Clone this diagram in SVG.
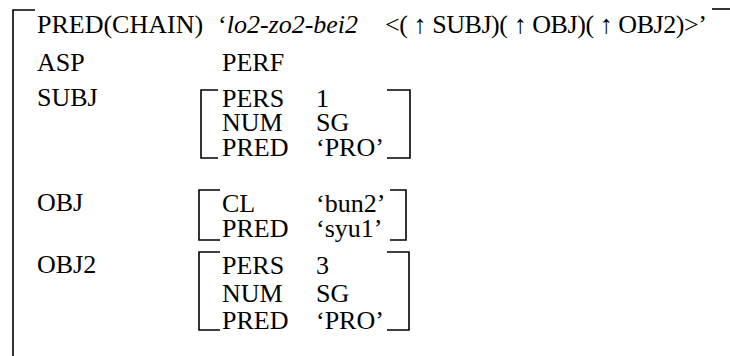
<svg xmlns="http://www.w3.org/2000/svg" width="730" height="356" viewBox="0 0 730 356">
  <style>
    text { font-family: "Liberation Serif", "Times New Roman", serif; font-size: 26px; fill: #000; }
    .it { font-style: italic; }
    .br { fill: none; stroke: #000; stroke-width: 1.6; }
  </style>
  <rect width="730" height="356" fill="#fff"/>

  <!-- outer f-structure bracket -->
  <g id="outer">
    <path class="br" d="M35,10 H13 V356"/>
    <path class="br" d="M712,9 H730"/>
    <text x="37" y="33">PRED(CHAIN)</text>
    <text x="218" y="33">‘<tspan class="it">lo2-zo2-bei2</tspan></text>
    <text x="385" y="33" textLength="322" lengthAdjust="spacing">&lt;( ↑ SUBJ)( ↑ OBJ)( ↑ OBJ2)&gt;’</text>
    <text x="37" y="71">ASP</text>
    <text x="222" y="71">PERF</text>
  </g>

  <!-- SUBJ -->
  <g id="subj">
    <text x="37" y="106">SUBJ</text>
    <path class="br" d="M218,90 H201 V158 H218"/>
    <path class="br" d="M387,90 H410 V158 H387"/>
    <text x="222" y="107">PERS</text><text x="316" y="107">1</text>
    <text x="222" y="131">NUM</text><text x="316" y="131">SG</text>
    <text x="222" y="156">PRED</text><text x="316" y="156">‘PRO’</text>
  </g>

  <!-- OBJ -->
  <g id="obj">
    <text x="37" y="211">OBJ</text>
    <path class="br" d="M220,190 H199 V240 H220"/>
    <path class="br" d="M390,190 H406 V240 H390"/>
    <text x="222" y="212">CL</text><text x="316" y="212">‘bun2’</text>
    <text x="222" y="237">PRED</text><text x="316" y="237">‘syu1’</text>
  </g>

  <!-- OBJ2 -->
  <g id="obj2">
    <text x="37" y="273">OBJ2</text>
    <path class="br" d="M220,252 H199 V330 H220"/>
    <path class="br" d="M387,252 H409 V330 H387"/>
    <text x="222" y="274">PERS</text><text x="316" y="274">3</text>
    <text x="222" y="302">NUM</text><text x="316" y="302">SG</text>
    <text x="222" y="329">PRED</text><text x="316" y="329">‘PRO’</text>
  </g>
</svg>
